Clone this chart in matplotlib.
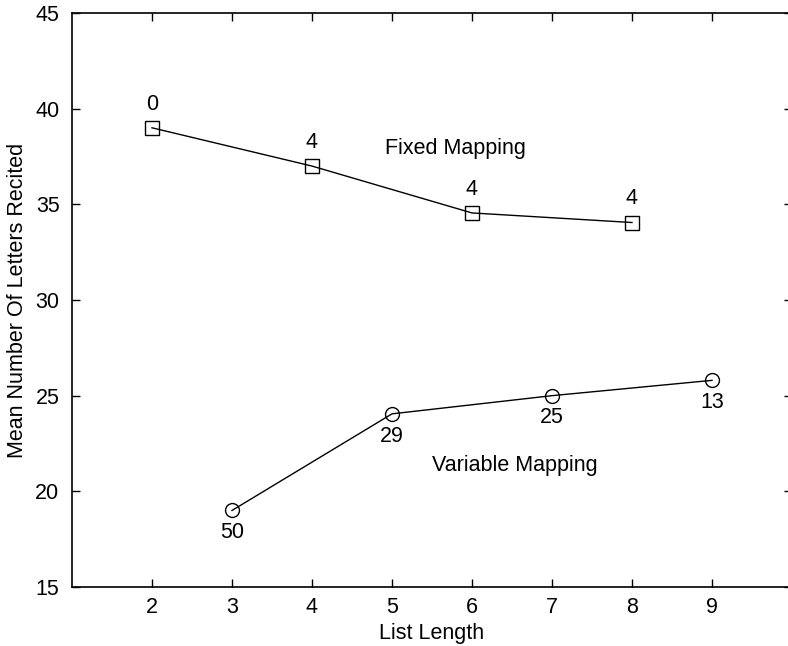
import matplotlib
matplotlib.use("Agg")
import matplotlib.pyplot as plt

plt.rcParams['font.family'] = ['Liberation Sans', 'DejaVu Sans']

fixed_x = [2, 4, 6, 8]
fixed_y = [39.0, 37.0, 34.55, 34.05]
fixed_n = ["0", "4", "4", "4"]

var_x = [3, 5, 7, 9]
var_y = [19.0, 24.05, 25.0, 25.8]
var_n = ["50", "29", "25", "13"]

xticks = [2, 3, 4, 5, 6, 7, 8, 9]
yticks = [15, 20, 25, 30, 35, 40, 45]

FS = 15.5

fig = plt.figure(figsize=(7.88, 6.46), dpi=100)
ax = fig.add_axes([72/788, 1-587/646, 720/788, (587-13)/646])

ax.plot(fixed_x, fixed_y, color='black', lw=1.0, marker='s', ms=10,
        mfc='none', mec='black', mew=1.0)
ax.plot(var_x, var_y, color='black', lw=1.0, marker='o', ms=10,
        mfc='none', mec='black', mew=1.0)

for x, y, t in zip(fixed_x, fixed_y, fixed_n):
    ax.annotate(t, (x, y), xytext=(0, 17), textcoords='offset points',
                ha='center', va='center', fontsize=FS)
for x, y, t in zip(var_x, var_y, var_n):
    ax.annotate(t, (x, y), xytext=(0, -16), textcoords='offset points',
                ha='center', va='center', fontsize=FS)

ax.text(5.79, 37.9, "Fixed Mapping", ha='center', va='center', fontsize=FS)
ax.text(6.54, 21.35, "Variable Mapping", ha='center', va='center', fontsize=FS)

ax.set_xlim(1, 10)
ax.set_ylim(15, 45)
ax.set_xticks(xticks)
ax.set_yticks(yticks)
ax.tick_params(direction='in', top=True, right=True, length=6, width=1,
               labelsize=FS)
ax.tick_params(axis='x', pad=7)
ax.tick_params(axis='y', pad=9)
for s in ax.spines.values():
    s.set_linewidth(1.2)

ax.set_xlabel("List Length", fontsize=FS, labelpad=4)
ax.set_ylabel("Mean Number Of Letters Recited", fontsize=FS, labelpad=5)

fig.savefig("out.png", dpi=100)
